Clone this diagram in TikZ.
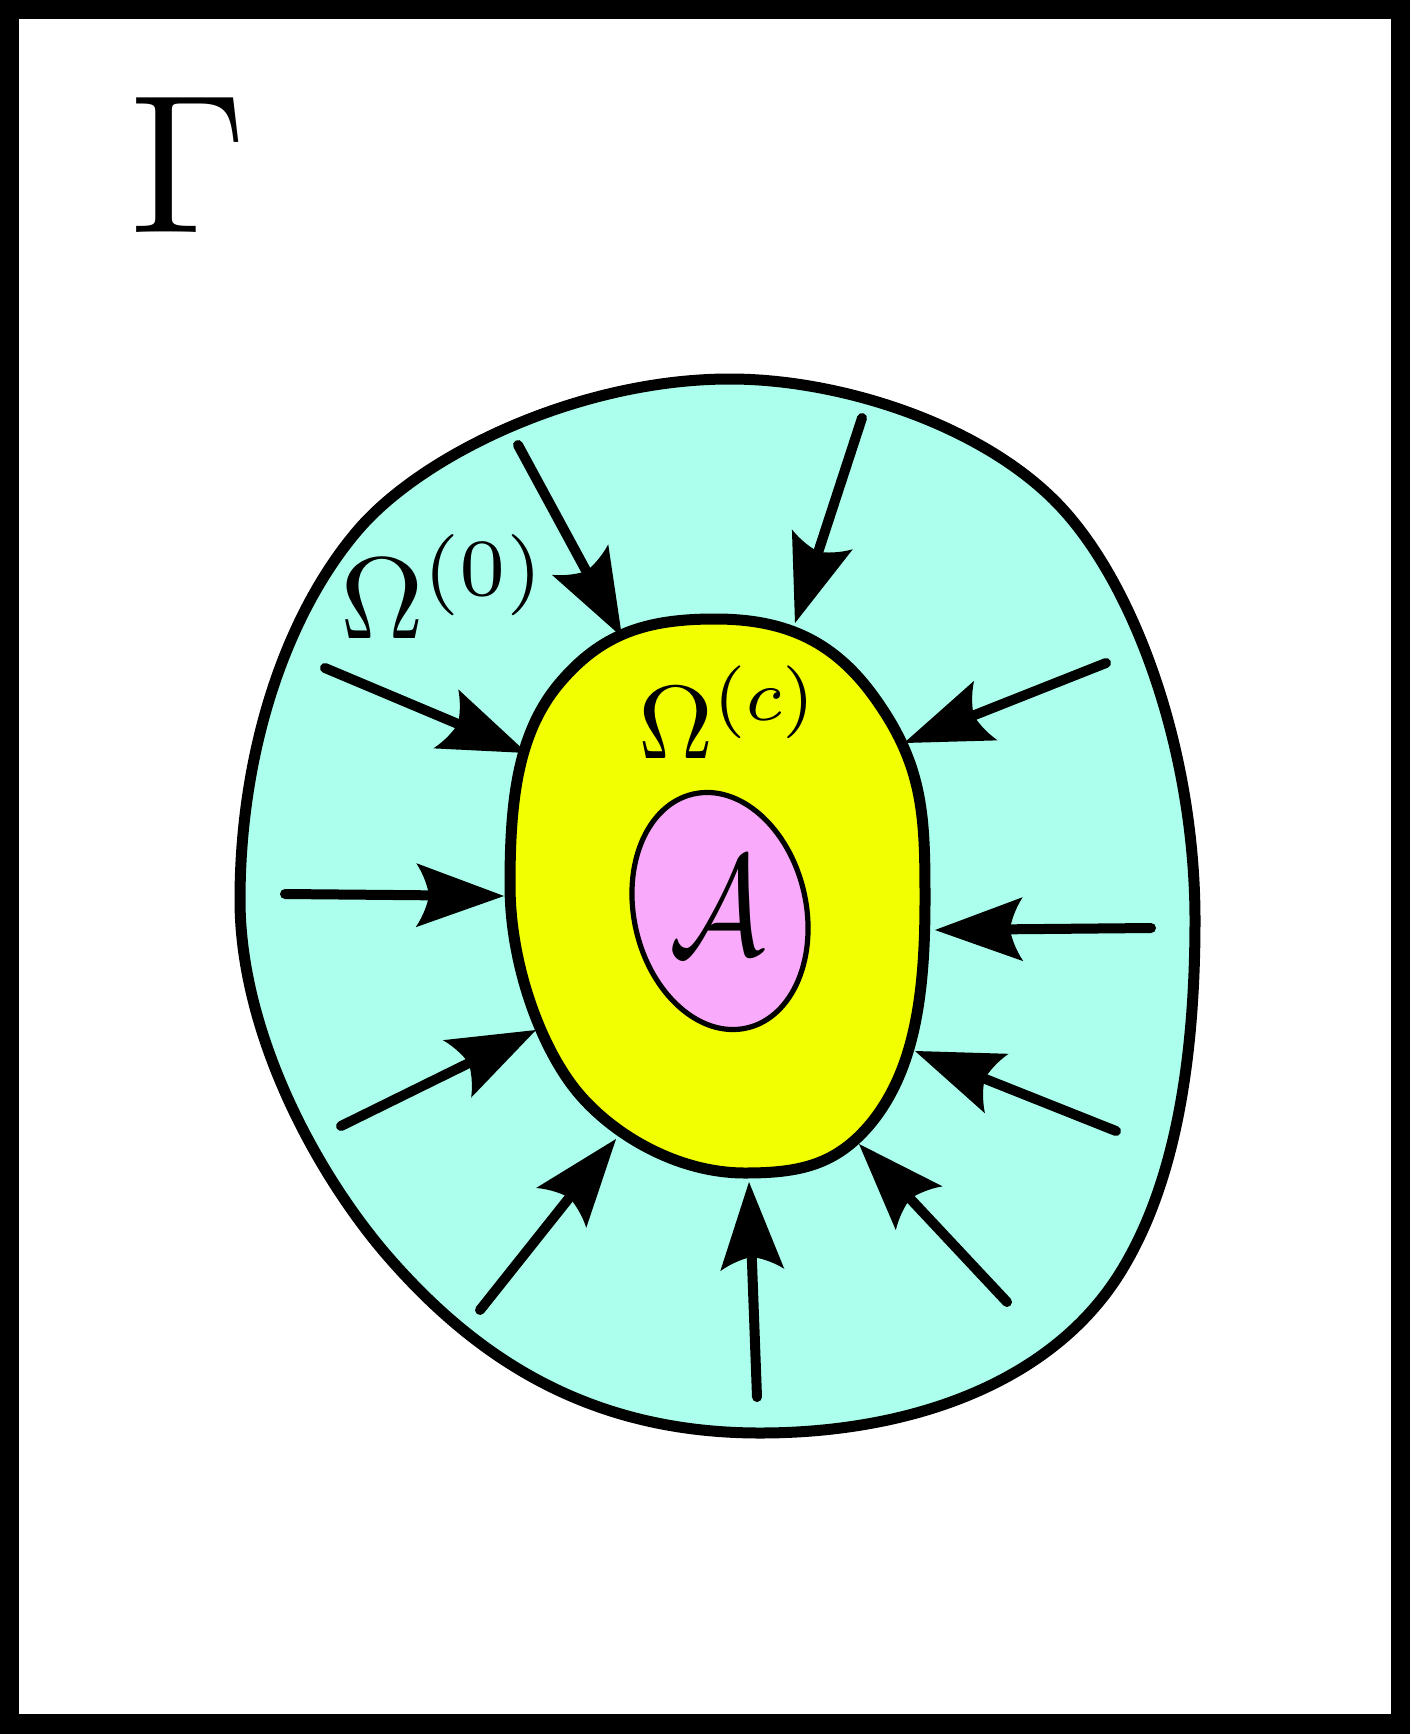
\documentclass[tikz,border=0pt]{standalone}
\usetikzlibrary{calc}
\definecolor{cyanfill}{RGB}{171,255,236}
\definecolor{yellowfill}{RGB}{242,255,0}
\definecolor{pinkfill}{RGB}{249,170,250}
\tikzset{
  blobline/.style={line width=5.5pt, line join=round},
  ellline/.style={line width=2.6pt},
  shaftline/.style={line width=5pt, line cap=round},
  labeltext/.style={inner sep=0pt, outer sep=0pt},
}
\newcommand\inarrow[2]{%
  \draw[shaftline] (#1) -- ($(#2)!36pt!(#1)$);
  \path (#1); \pgfgetlastxy{\arrAx}{\arrAy}%
  \path (#2); \pgfgetlastxy{\arrBx}{\arrBy}%
  \pgfmathsetmacro\arrAng{atan2(\arrBy-\arrAy,\arrBx-\arrAx)}%
  \fill[black, shift={(#2)}, rotate=\arrAng] (0,0) -- (-88,32)
     .. controls (-80,20) and (-76,7) .. (-75,0)
     .. controls (-76,-7) and (-80,-20) .. (-88,-32) -- cycle;
}
\begin{document}
\begin{tikzpicture}[x=0.5pt,y=-0.5pt]
\fill[black] (0,0) rectangle (1410,1734);
\fill[white] (19,19) rectangle (1391,1714);
\useasboundingbox (0,0) rectangle (1410,1734);

% outer region
\filldraw[blobline, fill=cyanfill]
  (730,379) .. controls (840,379) and (980,424) .. (1057,503)
  .. controls (1134,582) and (1195,750) .. (1195,920)
  .. controls (1195,1050) and (1178,1180) .. (1120,1273)
  .. controls (1051,1383.5) and (910,1433) .. (760,1433)
  .. controls (590,1433) and (476,1359) .. (385,1253)
  .. controls (313.5,1169) and (240,1030) .. (240,900)
  .. controls (240,750) and (286.5,613.6) .. (358,530)
  .. controls (423,454) and (580,379) .. (730,379) -- cycle;

% inner region
\filldraw[blobline, fill=yellowfill]
  (715,619) .. controls (787,619) and (836,642) .. (877,701)
  .. controls (924,768) and (925,818) .. (925,900)
  .. controls (925,990) and (916,1067) .. (872,1122)
  .. controls (837,1165) and (800,1173) .. (745,1173)
  .. controls (675,1173) and (609,1132) .. (575,1089)
  .. controls (541,1046) and (510,965) .. (510,885)
  .. controls (510,803) and (517,735) .. (558,685)
  .. controls (601,633) and (647,619) .. (715,619) -- cycle;

% attractor
\filldraw[ellline, fill=pinkfill, rotate around={13:(720,911)}] (720,911) ellipse [x radius=86, y radius=120];

% labels
\node[labeltext, xscale=9.3, yscale=9.9] (gamma) at (189,164.5) {$\Gamma$};
\node[labeltext, scale=5.8, anchor=base west] (om0) at (340,638) {$\Omega^{(0)}$};
\node[labeltext, scale=5.2, anchor=base west] (omc) at (638,758) {$\Omega^{(c)}$};
\node[labeltext, xscale=6.0, yscale=7.1] (calA) at (717,906) {$\mathcal{A}$};

% arrow end points
\coordinate (t1) at (518,445);   \coordinate (h1) at (622,637);
\coordinate (t2) at (862,418);   \coordinate (h2) at (795,623);
\coordinate (t3) at (325,668);   \coordinate (h3) at (527,753);
\coordinate (t4) at (1106,663);  \coordinate (h4) at (904,743);
\coordinate (t5) at (285,894);   \coordinate (h5) at (504,896);
\coordinate (t6) at (1151,928);  \coordinate (h6) at (935,930);
\coordinate (t7) at (341,1126);  \coordinate (h7) at (536,1030);
\coordinate (t8) at (1116,1131); \coordinate (h8) at (915,1051);
\coordinate (t9) at (480,1310);  \coordinate (h9) at (616,1139);
\coordinate (t10) at (757,1397); \coordinate (h10) at (749,1182);
\coordinate (t11) at (1007,1302);\coordinate (h11) at (859,1144);

\inarrow{t1}{h1}
\inarrow{t2}{h2}
\inarrow{t3}{h3}
\inarrow{t4}{h4}
\inarrow{t5}{h5}
\inarrow{t6}{h6}
\inarrow{t7}{h7}
\inarrow{t8}{h8}
\inarrow{t9}{h9}
\inarrow{t10}{h10}
\inarrow{t11}{h11}
\end{tikzpicture}
\end{document}
